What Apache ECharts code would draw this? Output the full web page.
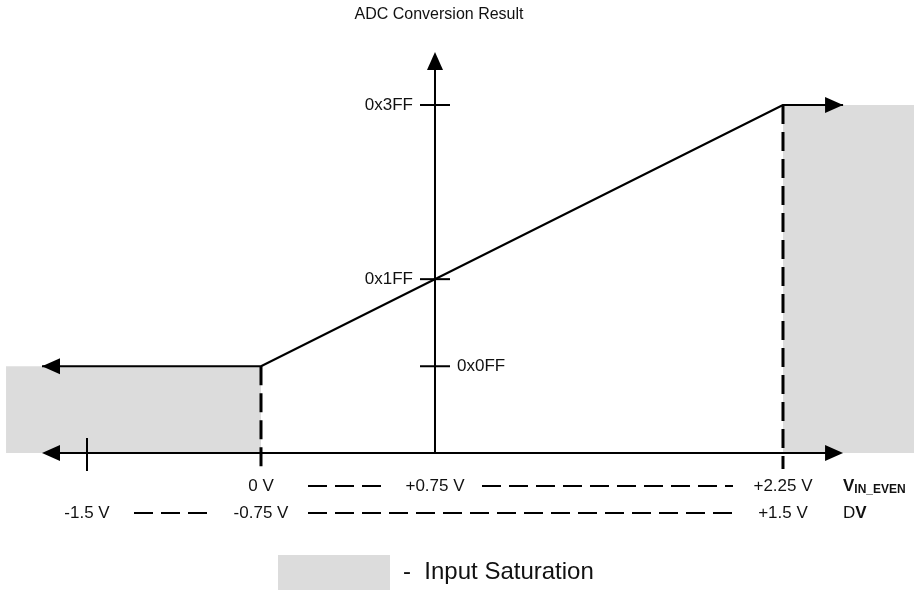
<!DOCTYPE html>
<html>
<head>
<meta charset="utf-8">
<title>ADC Conversion Result</title>
<script src="https://cdn.jsdelivr.net/npm/echarts@6/dist/echarts.min.js"></script>
<style>
  html, body { margin: 0; padding: 0; background: #fff; }
  #chart { width: 914px; height: 590px; }
</style>
</head>
<body>
<div id="chart"></div>
<script>
// V_IN_EVEN labels under the axis
const vinTicks = [0, 0.75, 2.25]
const vinLabels = ['0 V', '+0.75 V', '+2.25 V']
// DV labels (DV = V_IN_EVEN - 0.75)
const dvTicks = [-1.5, -0.75, 1.5]
const dvLabels = ['-1.5 V', '-0.75 V', '+1.5 V']
const dvOffset = 0.75
// output code ticks
const codeTicks = [0x0ff, 0x1ff, 0x3ff]
const codeLabels = ['0x0FF', '0x1FF', '0x3FF']
// transfer curve, V_IN_EVEN vs code
const curveVin = [-0.944, 0, 2.25, 2.509]
const curveCode = [255, 255, 1023, 1023]
// axis extents
const vinAxis = [-0.944, 2.509]
const codeAxis = [0, 1179]
// saturation regions: [vin from, vin to, code top]
const satLeft = [-1.099, 0, 255]
const satRight = [2.25, 2.815, 1023]

const FONT = '"Liberation Sans", Arial, sans-serif'
const INK = '#000'
const SAT = '#dcdcdc'

const chart = echarts.init(document.getElementById('chart'))

// filled arrow head, tip at (x, y)
const arrowHead = (x, y, dir) => {
  const L = 18, W = 8
  let pts
  if (dir === 'left') pts = [[x, y], [x + L, y - W], [x + L, y + W]]
  else if (dir === 'right') pts = [[x, y], [x - L, y - W], [x - L, y + W]]
  else pts = [[x, y], [x - W, y + L], [x + W, y + L]]
  return { type: 'polygon', shape: { points: pts }, style: { fill: INK } }
}

const seg = (x1, y1, x2, y2, width, dash) => ({
  type: 'line',
  shape: { x1, y1, x2, y2 },
  style: { stroke: INK, lineWidth: width, lineDash: dash || null },
})

const label = (text, x, y, align, extra) => ({
  type: 'text',
  style: Object.assign(
    { text, x, y, align, verticalAlign: 'middle', font: '17px ' + FONT, fill: '#111' },
    extra || {}
  ),
})

// one row of labels joined by dashed lines
const labelRow = (ticks, labels, shift, dy) => ({
  type: 'custom',
  silent: true,
  z: 5,
  data: [[0, 0]],
  renderItem: (params, api) => {
    const kids = []
    const xs = ticks.map((t) => api.coord([t + shift, 0])[0])
    const y0 = api.coord([0, 0])[1] + dy
    xs.forEach((x, i) => {
      kids.push(label(labels[i], x, y0, 'center'))
      if (i < xs.length - 1) {
        kids.push(seg(x + 47, y0, xs[i + 1] - 50, y0, 2, [19, 8]))
      }
    })
    return { type: 'group', children: kids }
  },
})

const option = {
  animation: false,
  title: {
    text: 'ADC Conversion Result',
    left: 434,
    top: 2,
    textAlign: 'center',
    textStyle: { fontFamily: FONT, fontSize: 16, fontWeight: 'normal', color: '#111' },
  },
  legend: {
    left: 278,
    top: 555,
    padding: 0,
    itemWidth: 112,
    itemHeight: 35,
    selectedMode: false,
    data: [{ name: 'Input Saturation', icon: 'rect', itemStyle: { color: SAT } }],
    formatter: '-  {name}',
    textStyle: { fontFamily: FONT, fontSize: 24, color: '#111', padding: [0, 0, 0, 8] },
  },
  grid: { left: 0, right: 0, top: 0, bottom: 137 },
  xAxis: { type: 'value', min: -1.125, max: 2.8147, show: false },
  yAxis: { type: 'value', min: 0, max: 1331.6, show: false },
  series: [
    {
      name: 'Input Saturation',
      type: 'custom',
      silent: true,
      z: 1,
      itemStyle: { color: SAT },
      data: [satLeft, satRight],
      renderItem: (params, api) => {
        const a = api.coord([api.value(0), api.value(2)])
        const b = api.coord([api.value(1), 0])
        return {
          type: 'rect',
          shape: { x: a[0], y: a[1], width: b[0] - a[0], height: b[1] - a[1] },
          style: { fill: SAT },
        }
      },
    },
    {
      // dashed limits of the linear range
      type: 'custom',
      silent: true,
      z: 2,
      data: [[curveVin[1], curveCode[1]], [curveVin[2], curveCode[2]]],
      renderItem: (params, api) => {
        const a = api.coord([api.value(0), api.value(1)])
        const b = api.coord([api.value(0), 0])
        return seg(a[0], a[1], b[0], b[1] + 16, 3, [19, 8])
      },
    },
    {
      // axes with arrows
      type: 'custom',
      silent: true,
      z: 3,
      data: [[0, 0]],
      renderItem: (params, api) => {
        const l = api.coord([vinAxis[0], 0])
        const r = api.coord([vinAxis[1], 0])
        const b = api.coord([dvOffset, codeAxis[0]])
        const t = api.coord([dvOffset, codeAxis[1]])
        return {
          type: 'group',
          children: [
            seg(l[0] + 16, l[1], r[0] - 16, r[1], 2),
            arrowHead(l[0], l[1], 'left'),
            arrowHead(r[0], r[1], 'right'),
            seg(b[0], b[1], t[0], t[1] + 16, 2),
            arrowHead(t[0], t[1], 'up'),
          ],
        }
      },
    },
    {
      name: 'ADC Code',
      type: 'line',
      silent: true,
      z: 4,
      symbol: 'none',
      lineStyle: { color: INK, width: 2 },
      data: curveVin.map((v, i) => [v, curveCode[i]]),
    },
    {
      // arrow heads of the transfer curve and tick marks
      type: 'custom',
      silent: true,
      z: 5,
      data: [[0, 0]],
      renderItem: (params, api) => {
        const n = curveVin.length - 1
        const s = api.coord([curveVin[0], curveCode[0]])
        const e = api.coord([curveVin[n], curveCode[n]])
        const kids = [arrowHead(s[0], s[1], 'left'), arrowHead(e[0], e[1], 'right')]
        codeTicks.forEach((c, i) => {
          const p = api.coord([dvOffset, c])
          kids.push(seg(p[0] - 15, p[1], p[0] + 15, p[1], 2))
          if (i === 0) kids.push(label(codeLabels[i], p[0] + 22, p[1], 'left'))
          else kids.push(label(codeLabels[i], p[0] - 22, p[1], 'right'))
        })
        const q = api.coord([dvTicks[0] + dvOffset, 0])
        kids.push(seg(q[0], q[1] - 15, q[0], q[1] + 18, 2))
        return { type: 'group', children: kids }
      },
    },
    labelRow(vinTicks, vinLabels, 0, 33),
    labelRow(dvTicks, dvLabels, dvOffset, 60),
    {
      // row titles on the right
      type: 'custom',
      silent: true,
      z: 5,
      data: [[0, 0]],
      renderItem: (params, api) => {
        const y0 = api.coord([0, 0])[1]
        const x0 = api.coord([vinTicks[2], 0])[0] + 60
        return {
          type: 'group',
          children: [
            label('{b|V}{s|IN_EVEN}', x0, y0 + 33, 'left', {
              rich: {
                b: { font: 'bold 17px ' + FONT, fill: '#111' },
                s: { font: 'bold 12px ' + FONT, fill: '#111', padding: [8, 0, 0, 0] },
              },
            }),
            label('D{b|V}', x0, y0 + 60, 'left', {
              rich: { b: { font: 'bold 17px ' + FONT, fill: '#111' } },
            }),
          ],
        }
      },
    },
  ],
}

chart.setOption(option)
</script>
</body>
</html>
